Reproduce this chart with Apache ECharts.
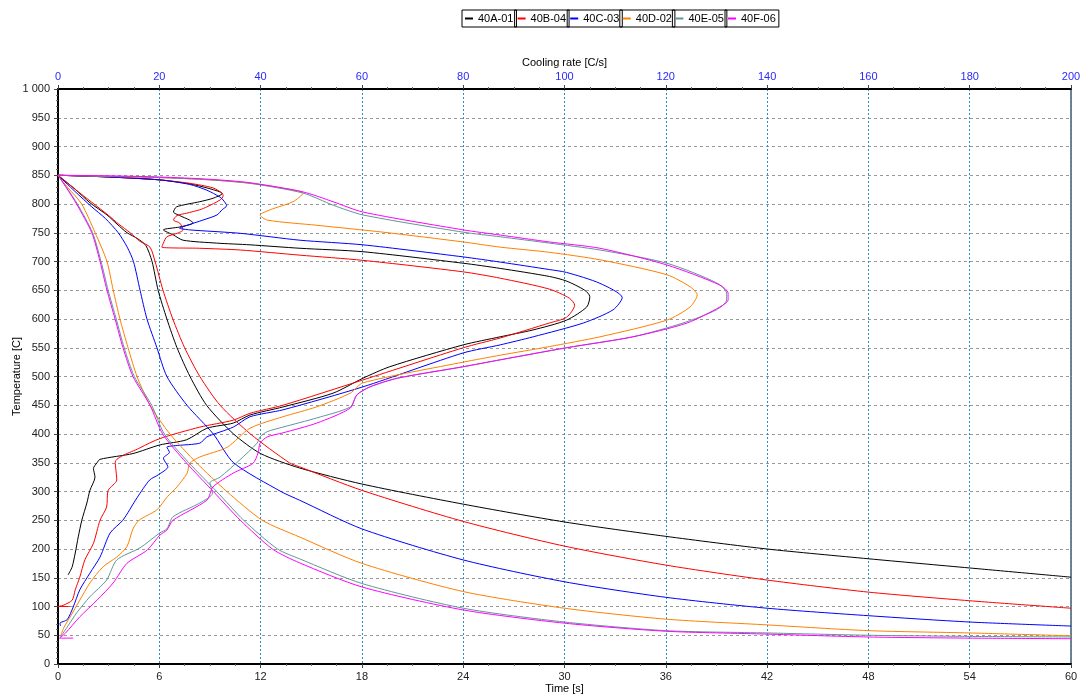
<!DOCTYPE html>
<html><head><meta charset="utf-8">
<script src="https://cdn.jsdelivr.net/npm/echarts@6/dist/echarts.min.js"></script>
<style>html,body{margin:0;padding:0;background:#fff}#c{width:1080px;height:696px}</style>
</head><body><div id="c"></div>
<script>
// ---- samples ----
const sampleNames = ['40A-01','40B-04','40C-03','40D-02','40E-05','40F-06'];
const sampleColors = ['#000000','#ff0000','#0000ff','#ff8000','#5f9795','#ff00ff'];

// ---- axis ranges ----
const timeRange = [0, 60, 6];        // Time [s]
const rateRange = [0, 200, 20];      // Cooling rate [C/s]
const tempRange = [0, 1000, 50];     // Temperature [C]

// ---- cooling curves: [time s, temperature C] ----
const cool_40A_01 = [[0,850],[1,826],[1.9,802],[2.9,781],[3.5,765],[4.09,750],[4.7,740],[5.2,728],[5.57,700],[5.93,650],[6.45,600],[7.05,550],[7.82,500],[8.8,450],[10.4,400],[12,366],[14.3,341],[18,313],[24,278],[30,247],[36,222],[42,200],[48,183],[54,167],[60,151]];
const cool_40B_04 = [[0,850],[1,826],[2,803],[3,780],[3.6,765],[4.27,750],[4.86,735],[5.45,725],[5.75,700],[6.22,650],[6.8,600],[7.5,550],[8.4,500],[9.6,450],[11.4,400],[13.7,350],[14.3,343],[18,302],[24,248],[30,205],[36,172],[42,146],[48,125],[54,110],[60,97]];
const cool_40C_03 = [[0,850],[1,822],[2,795],[2.8,775],[3.57,750],[4.1,725],[4.47,700],[4.86,650],[5.27,600],[5.86,550],[6.45,500],[7.64,450],[9.2,400],[10.4,350],[13.2,300],[14.3,285],[18,235],[24,181],[30,143],[36,116],[42,97],[48,84],[54,73],[60,66]];
const cool_40D_02 = [[0,850],[0.6,828],[1.4,800],[2.2,750],[2.9,700],[3.27,650],[3.67,600],[4.15,550],[4.68,500],[5.45,450],[6.63,400],[8.2,350],[10,300],[12.1,250],[14.3,221],[18,175],[24,126],[30,97],[36,78],[42,68],[48,58],[54,54],[60,49]];
const cool_40E_05 = [[0,850],[0.5,829],[1.15,800],[2.05,750],[2.55,700],[2.97,650],[3.45,600],[3.92,550],[4.52,500],[5.55,450],[6.3,400],[7.75,350],[9.4,300],[11,250],[13,200],[14.3,183],[18,140],[24,97],[30,73],[36,58],[42,54],[48,50],[54,48],[60,47]];
const cool_40F_06 = [[0,850],[0.5,828],[1.1,800],[2,750],[2.49,700],[2.9,650],[3.38,600],[3.85,550],[4.44,500],[5.45,450],[6.2,400],[7.6,350],[9.2,300],[10.8,250],[12.7,200],[14.3,176],[18,134],[24,94],[30,71],[36,57],[42,52],[48,47],[54,45],[60,44]];

// ---- cooling-rate curves: [cooling rate C/s, temperature C] ----
const rate_40A_01 = [[0,850],[10,847],[20,842],[26,835],[29.4,828],[32,821],[32.4,818],[30.6,810],[28,804],[23.4,795],[22.8,786],[24,780],[26,772],[26.7,767],[24,760],[20.8,755],[22.8,746],[24.7,737],[31.3,732],[37.9,729],[47.8,723],[60.2,717],[80,697],[87.3,688],[97,674],[100.4,666],[104,650],[105,639],[104.4,621],[100.4,598],[93.8,581],[87.3,569],[80,555],[65.5,517],[60.2,497],[54.3,471],[44.4,447],[37.9,433],[34.6,419],[29.4,410],[25.4,390],[20.1,381],[14.8,366],[8.3,356],[7.7,350],[7,340],[7.3,325],[6.3,302],[5.7,280],[4.7,250],[4,221],[3.4,193],[2.8,169],[2,155]];
const rate_40B_04 = [[0,850],[10,847],[20,842],[26,836],[30.6,828],[32.4,819],[32.6,814],[32,807],[29.4,795],[28,790],[25.4,784],[23.5,780],[22.8,772],[24,767],[24.7,755],[23.5,749],[21.5,743],[20.8,732],[20.5,725],[28,723],[36,720],[47.8,711],[60.2,702],[80,682],[87.3,671],[97,652],[101,636],[102,624],[100.4,603],[97,593],[87.3,567],[80,550],[60.2,494],[44.4,450],[37.9,436],[34.6,424],[28,412],[20.1,392],[16.2,376],[11.3,351],[11.6,320],[9.9,302],[9.6,273],[8.3,250],[7,210],[5.3,181],[4.3,151],[3.4,129],[2.8,111],[1,102],[0,100],[2.4,100]];
const rate_40C_03 = [[0,850],[10,847],[20,842],[26,834],[29.4,824],[32,812],[32.6,807],[33.3,797],[32.4,790],[31.4,781],[28.6,772],[25.5,763],[24,758],[26,755],[36,749],[47.8,737],[60.2,729],[80,708],[87.3,699],[97,686],[100.4,681],[107,662],[111.4,637],[109.6,616],[103.7,593],[93.8,569],[87.3,555],[80,541],[60.2,482],[44.4,442],[37.9,430],[34.6,412],[29.4,395],[28,384],[21.5,377],[22,368],[20.8,358],[21.7,343],[19.8,329],[18.1,320],[15.6,289],[12.8,250],[10.3,228],[8.3,186],[6.3,158],[4.3,129],[3,99],[1.8,77],[0.4,71],[0.5,66]];
const rate_40D_02 = [[0,850],[10,848],[20,846],[30,842],[37.9,836],[44,828],[48.4,819],[46.4,804],[41.9,790],[39.9,781],[41.3,772],[51.1,763],[64.2,751],[80,734],[87.3,725],[97,716],[107,703],[120.2,677],[124.8,656],[126.2,642],[124.8,621],[120.2,598],[107,569],[97,552],[87.3,537],[80,525],[60.2,489],[57.7,471],[51,447],[44.4,430],[37.9,410],[33.4,377],[28,360],[26,349],[25.5,332],[23.5,308],[21.6,291],[19.5,268],[16,250],[14.8,235],[13.6,204],[11.6,186],[8.9,169],[6.3,141],[4.3,111],[2.4,82],[1.2,64],[0.5,49]];
const rate_40E_05 = [[0,850],[10,848],[20,846],[30,842],[37.9,836],[48.4,819],[54.3,798],[60.2,781],[80,751],[87.3,743],[97,732],[107,720],[120.2,697],[130,663],[132,645],[132,633],[130,616],[123.4,593],[113.5,569],[100.4,550],[87.3,529],[80,517],[67,497],[61.6,482],[59,468],[57.7,447],[51.1,428],[44.4,412],[41.3,404],[39.9,395],[39.3,384],[35.9,355],[32,325],[30,315],[30.5,297],[28,280],[22.7,256],[21.5,235],[20.1,228],[16.2,202],[11.6,181],[9.6,146],[6.3,117],[3.7,89],[1.8,64],[0.5,47]];
const rate_40F_06 = [[0,850],[10,849],[20,847],[30,843],[37.9,837],[48.4,821],[54.3,804],[60.2,786],[80,755],[87.3,746],[97,734],[107,723],[120.2,694],[130.7,659],[132.3,645],[132.3,633],[130.7,621],[124.2,593],[113.5,569],[100.4,550],[87.3,529],[80,517],[67,497],[61.6,482],[59,468],[57.7,445],[51.1,419],[44.4,402],[41.3,395],[39.9,384],[39.5,367],[38.5,349],[34.6,332],[30.6,308],[29.4,285],[22.7,250],[21.5,233],[20.1,224],[17.6,198],[13.6,175],[10.9,141],[7.7,111],[4.3,82],[1.5,54],[0.3,45],[3,45]];

const coolCurves = [cool_40A_01, cool_40B_04, cool_40C_03, cool_40D_02, cool_40E_05, cool_40F_06];
const rateCurves = [rate_40A_01, rate_40B_04, rate_40C_03, rate_40D_02, rate_40E_05, rate_40F_06];

const FONT = 'Liberation Sans, Arial, sans-serif';
const chart = echarts.init(document.getElementById('c'), null, {renderer: 'canvas'});

const series = [];
sampleNames.forEach((n, i) => {
  [[coolCurves[i], 0], [rateCurves[i], 1]].forEach(([d, ax]) => {
    series.push({
      name: n, type: 'line', xAxisIndex: ax, yAxisIndex: 0, data: d,
      showSymbol: false, symbol: 'none', smooth: 0.25, silent: true,
      lineStyle: {color: sampleColors[i], width: 1},
      itemStyle: {color: sampleColors[i]}
    });
  });
});

const legends = sampleNames.map((n, i) => ({
  data: [n], left: 462 + i * 52.6, top: 10,
  padding: [3, 3, 3, 3], borderColor: '#000', borderWidth: 1,
  icon: 'rect', itemWidth: 8, itemHeight: 2,
  textStyle: {fontSize: 11, color: '#000', fontFamily: FONT},
  selectedMode: false
}));

chart.setOption({
  animation: false,
  backgroundColor: '#fff',
  legend: legends,
  grid: {left: 58, right: 9, top: 89, bottom: 32, containLabel: false, outerBoundsMode: 'none',
         show: true, borderColor: '#000', borderWidth: 1, backgroundColor: 'transparent'},
  xAxis: [{
    type: 'value', position: 'bottom', min: timeRange[0], max: timeRange[1], interval: timeRange[2],
    name: 'Time [s]', nameLocation: 'middle', nameGap: 19, nameMoveOverlap: false,
    nameTextStyle: {fontSize: 11, color: '#000', fontFamily: FONT},
    axisLine: {show: true, onZero: false, lineStyle: {color: '#000', width: 2}},
    axisTick: {show: true, length: 4, lineStyle: {color: '#444'}},
    minorTick: {show: true, splitNumber: 4, length: 2, lineStyle: {color: '#666'}},
    axisLabel: {fontSize: 11, color: '#222', margin: 7, fontFamily: FONT},
    splitLine: {show: false}
  }, {
    type: 'value', position: 'top', min: rateRange[0], max: rateRange[1], interval: rateRange[2],
    name: 'Cooling rate [C/s]', nameLocation: 'middle', nameGap: 21, nameMoveOverlap: false,
    nameTextStyle: {fontSize: 11, color: '#000', fontFamily: FONT},
    axisLine: {show: true, onZero: false, lineStyle: {color: '#000', width: 2}},
    axisTick: {show: true, length: 4, lineStyle: {color: '#444'}},
    minorTick: {show: true, splitNumber: 4, length: 2, lineStyle: {color: '#666'}},
    axisLabel: {fontSize: 11, color: '#2a2aff', margin: 7, fontFamily: FONT},
    splitLine: {show: true, lineStyle: {color: '#2a8fc4', width: 1, type: [2, 2]}}
  }],
  yAxis: [{
    type: 'value', min: tempRange[0], max: tempRange[1], interval: tempRange[2],
    name: 'Temperature [C]', nameLocation: 'middle', nameGap: 36, nameMoveOverlap: false,
    nameTextStyle: {fontSize: 11, color: '#000', fontFamily: FONT},
    axisLine: {show: true, onZero: false, lineStyle: {color: '#000', width: 2}},
    axisTick: {show: true, length: 4, lineStyle: {color: '#444'}},
    minorTick: {show: true, splitNumber: 5, length: 2, lineStyle: {color: '#666'}},
    axisLabel: {fontSize: 11, color: '#222', margin: 8, fontFamily: FONT,
      formatter: v => String(v).replace(/\B(?=(\d{3})+(?!\d))/g, ' ')},
    splitLine: {show: true, lineStyle: {color: '#999', width: 1, type: [3, 3]}}
  }],
  series: series
});
</script></body></html>
